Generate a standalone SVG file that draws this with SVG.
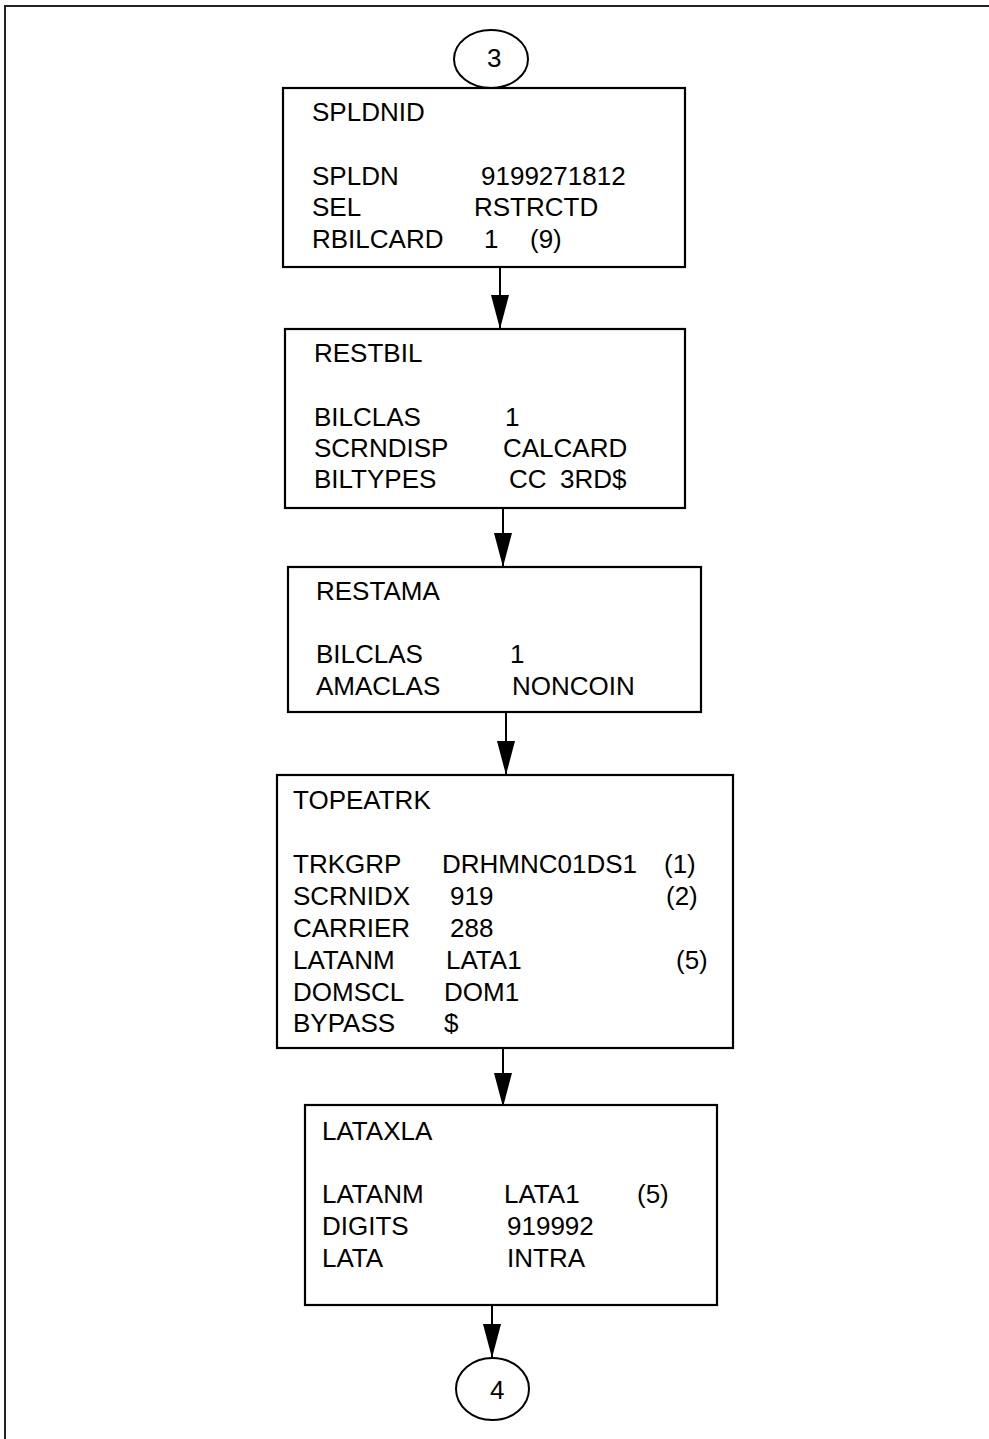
<svg xmlns="http://www.w3.org/2000/svg" width="989" height="1439" viewBox="0 0 989 1439">
<defs>
<marker id="arr" markerUnits="userSpaceOnUse" markerWidth="34" markerHeight="18" refX="34" refY="9" orient="auto" viewBox="0 0 34 18">
<path d="M0,0 L34,9 L0,18 Z" fill="#000"/>
</marker>
<style>
.box{fill:#fff;stroke:#000;stroke-width:2.2}
.t{font-family:"Liberation Sans",Arial,sans-serif;font-size:26px;fill:#000}
.c{fill:none;stroke:#000;stroke-width:2}
.frame{fill:none;stroke:#222;stroke-width:2}
</style>
</defs>
<rect width="989" height="1439" fill="#fff"/>
<path class="frame" d="M989,6 H5 V1439"/>
<g id="connectors">
<line class="c" x1="500" y1="267" x2="500" y2="329" marker-end="url(#arr)"/>
<line class="c" x1="503" y1="508" x2="503" y2="567" marker-end="url(#arr)"/>
<line class="c" x1="506" y1="712" x2="506" y2="775" marker-end="url(#arr)"/>
<line class="c" x1="503" y1="1048" x2="503" y2="1107" marker-end="url(#arr)"/>
<line class="c" x1="492" y1="1305" x2="492" y2="1358" marker-end="url(#arr)"/>
</g>
<g id="conn3">
<ellipse cx="491" cy="59" rx="37" ry="29" fill="#fff" stroke="#000" stroke-width="2"/>
<text class="t" x="487" y="67">3</text>
</g>
<g id="spldnid">
<rect class="box" x="283" y="88" width="402" height="179"/>
<text class="t" x="312" y="121">SPLDNID</text>
<text class="t" x="312" y="185">SPLDN</text>
<text class="t" x="481" y="185">9199271812</text>
<text class="t" x="312" y="216">SEL</text>
<text class="t" x="474" y="216">RSTRCTD</text>
<text class="t" x="312" y="248">RBILCARD</text>
<text class="t" x="484" y="248">1</text>
<text class="t" x="530" y="248">(9)</text>
</g>
<g id="restbil">
<rect class="box" x="285" y="329" width="400" height="179"/>
<text class="t" x="314" y="362">RESTBIL</text>
<text class="t" x="314" y="426">BILCLAS</text>
<text class="t" x="505" y="426">1</text>
<text class="t" x="314" y="457">SCRNDISP</text>
<text class="t" x="503" y="457">CALCARD</text>
<text class="t" x="314" y="488">BILTYPES</text>
<text class="t" x="509" y="488">CC</text>
<text class="t" x="560" y="488">3RD$</text>
</g>
<g id="restama">
<rect class="box" x="288" y="567" width="413" height="145"/>
<text class="t" x="316" y="600">RESTAMA</text>
<text class="t" x="316" y="663">BILCLAS</text>
<text class="t" x="510" y="663">1</text>
<text class="t" x="316" y="695">AMACLAS</text>
<text class="t" x="512" y="695">NONCOIN</text>
</g>
<g id="topeatrk">
<rect class="box" x="277" y="775" width="456" height="273"/>
<text class="t" x="293" y="809">TOPEATRK</text>
<text class="t" x="293" y="873">TRKGRP</text>
<text class="t" x="442" y="873">DRHMNC01DS1</text>
<text class="t" x="664" y="873">(1)</text>
<text class="t" x="293" y="905">SCRNIDX</text>
<text class="t" x="450" y="905">919</text>
<text class="t" x="666" y="905">(2)</text>
<text class="t" x="293" y="937">CARRIER</text>
<text class="t" x="450" y="937">288</text>
<text class="t" x="293" y="969">LATANM</text>
<text class="t" x="446" y="969">LATA1</text>
<text class="t" x="676" y="969">(5)</text>
<text class="t" x="293" y="1001">DOMSCL</text>
<text class="t" x="444" y="1001">DOM1</text>
<text class="t" x="293" y="1032">BYPASS</text>
<text class="t" x="444" y="1032">$</text>
</g>
<g id="lataxla">
<rect class="box" x="305" y="1105" width="412" height="200"/>
<text class="t" x="322" y="1140">LATAXLA</text>
<text class="t" x="322" y="1203">LATANM</text>
<text class="t" x="504" y="1203">LATA1</text>
<text class="t" x="637" y="1203">(5)</text>
<text class="t" x="322" y="1235">DIGITS</text>
<text class="t" x="507" y="1235">919992</text>
<text class="t" x="322" y="1267">LATA</text>
<text class="t" x="507" y="1267">INTRA</text>
</g>
<g id="conn4">
<ellipse cx="492.5" cy="1389" rx="36.5" ry="31" fill="#fff" stroke="#000" stroke-width="2"/>
<text class="t" x="490" y="1399">4</text>
</g>
</svg>
